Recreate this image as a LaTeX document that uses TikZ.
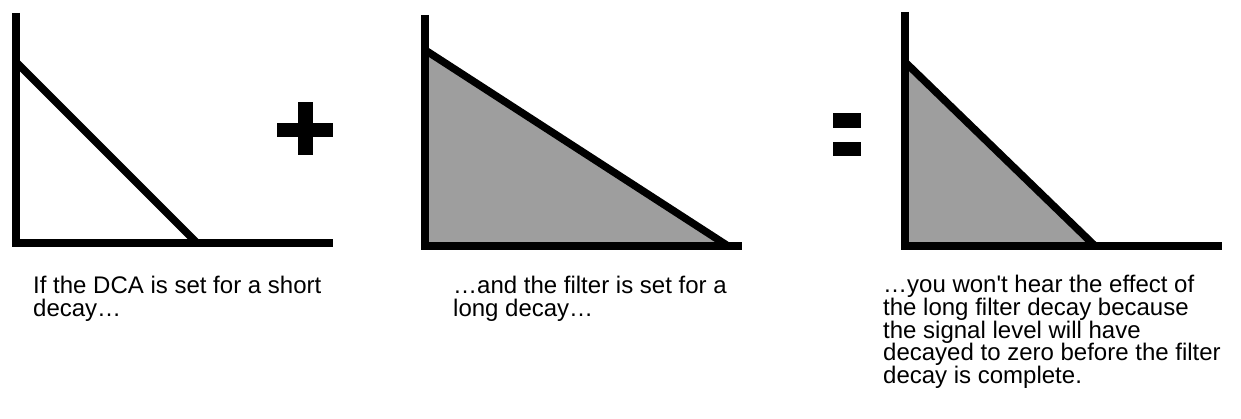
\documentclass[tikz,border=0pt]{standalone}
\usepackage{fontspec}
\setmainfont{Liberation Sans}
\begin{document}
\begin{tikzpicture}[x=1pt,y=-1pt,
  axis/.style={line width=8pt},
  curve/.style={line width=7.5pt},
  shade/.style={fill=black!38},
  caption/.style={anchor=north west, inner sep=0pt, align=left, font=\fontsize{24}{22.8}\selectfont}]
\useasboundingbox (0,0) rectangle (1241,419);
% panel 1
\draw[curve] (16,62) -- (197,243);
\draw[axis] (16,13) -- (16,247);
\draw[axis] (12,243) -- (333,243);
% plus
\fill (298,102) rectangle (313,155);
\fill (277,123) rectangle (333,137);
% panel 2
\fill[shade] (425,50) -- (728,246) -- (425,246) -- cycle;
\draw[curve] (425,50) -- (728,246);
\draw[axis] (425,15) -- (425,250);
\draw[axis] (421,246) -- (742,246);
% equals
\fill (833,113) rectangle (861,128);
\fill (833,142) rectangle (861,156);
% panel 3
\fill[shade] (905,62) -- (1095,246) -- (905,246) -- cycle;
\draw[curve] (905,62) -- (1095,246);
\draw[axis] (905,12) -- (905,250);
\draw[axis] (901,246) -- (1222,246);
% captions
\node[caption] (c1) at (33,276) {If the DCA is set for a short\\decay…};
\node[caption] (c2) at (453,276) {…and the filter is set for a\\long decay…};
\node[caption] (c3) at (883,275) {…you won\textquotesingle t hear the effect of\\the long filter decay because\\the signal level will have\\decayed to zero before the filter\\decay is complete.};
\end{tikzpicture}
\end{document}
